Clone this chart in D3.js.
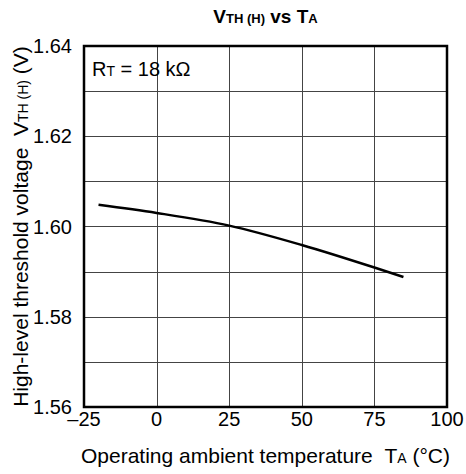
<!DOCTYPE html>
<html>
<head>
<meta charset="utf-8">
<script src="https://cdn.jsdelivr.net/npm/d3@7"></script>
<style>
  body { margin: 0; background: #fff; }
  text { font-family: "Liberation Sans", Arial, sans-serif; fill: #000; }
</style>
</head>
<body>
<script>
// curve values
const temps = [-20, 0, 25, 50, 75, 85]
const volts = [1.6048, 1.6030, 1.6002, 1.5959, 1.5909, 1.5888]
const xTicks = [-25, 0, 25, 50, 75, 100]
const yTicks = [1.56, 1.58, 1.60, 1.62, 1.64]
const yGrid = [1.57, 1.59, 1.61, 1.63]

const width = 466
const height = 474
const margin = {top: 46, right: 19, bottom: 67, left: 84}
const w = width - margin.left - margin.right
const h = height - margin.top - margin.bottom

const x = d3.scaleLinear().domain([-25, 100]).range([0, w])
const y = d3.scaleLinear().domain([1.56, 1.64]).range([h, 0])

const svg = d3.select('body').append('svg')
  .attr('width', width)
  .attr('height', height)

const g = svg.append('g')
  .attr('transform', `translate(${margin.left}, ${margin.top})`)

// grid
g.append('g')
  .selectAll('line')
  .data(xTicks.slice(1, -1))
  .join('line')
  .attr('x1', (d) => Math.round(x(d)) + 0.5)
  .attr('x2', (d) => Math.round(x(d)) + 0.5)
  .attr('y1', 0)
  .attr('y2', h)
  .attr('stroke', '#444')

g.append('g')
  .selectAll('line')
  .data(yTicks.slice(1, -1).concat(yGrid))
  .join('line')
  .attr('y1', (d) => Math.round(y(d)) + 0.5)
  .attr('y2', (d) => Math.round(y(d)) + 0.5)
  .attr('x1', 0)
  .attr('x2', w)
  .attr('stroke', '#444')

// frame
g.append('rect')
  .attr('width', w)
  .attr('height', h)
  .attr('fill', 'none')
  .attr('stroke', '#000')
  .attr('stroke-width', 2.5)

// curve
const line = d3.line()
  .x((d, i) => x(temps[i]))
  .y((d) => y(d))
  .curve(d3.curveMonotoneX)

g.append('path')
  .datum(volts)
  .attr('d', line)
  .attr('fill', 'none')
  .attr('stroke', '#000')
  .attr('stroke-width', 2.5)

// tick labels
g.append('g')
  .selectAll('text')
  .data(xTicks)
  .join('text')
  .attr('x', (d) => x(d))
  .attr('y', h + 19)
  .attr('text-anchor', 'middle')
  .style('font-size', '20px')
  .text((d) => d < 0 ? `\u2013${-d}` : d)

g.append('g')
  .selectAll('text')
  .data(yTicks)
  .join('text')
  .attr('x', -12)
  .attr('y', (d) => y(d) + 7)
  .attr('text-anchor', 'end')
  .style('font-size', '20px')
  .text((d) => d.toFixed(2))

// RT label
const rt = g.append('text')
  .attr('x', 8)
  .attr('y', 30)
  .style('font-size', '20px')
rt.append('tspan').text('R')
rt.append('tspan').style('font-size', '14px').text('T')
rt.append('tspan').text(' = 18 k\u03a9')

// title
const title = svg.append('text')
  .attr('x', margin.left + w / 2)
  .attr('y', 23)
  .attr('text-anchor', 'middle')
  .style('font-weight', 'bold')
  .style('font-size', '19px')
title.append('tspan').text('V')
title.append('tspan').style('font-size', '13px').text('TH (H)')
title.append('tspan').text(' vs T')
title.append('tspan').style('font-size', '13px').text('A')

// x axis title
const xt = svg.append('text')
  .attr('x', margin.left + w / 2)
  .attr('y', 463)
  .attr('text-anchor', 'middle')
  .style('font-size', '21px')
xt.append('tspan').text('Operating ambient temperature \u00a0T')
xt.append('tspan').style('font-size', '14px').text('A')
xt.append('tspan').text(' (\u00b0C)')

// y axis title
const yt = svg.append('text')
  .attr('transform', `translate(28, ${margin.top + h / 2}) rotate(-90)`)
  .attr('text-anchor', 'middle')
  .style('font-size', '21px')
yt.append('tspan').text('High-level threshold voltage \u00a0V')
yt.append('tspan').style('font-size', '14px').text('TH (H)')
yt.append('tspan').text(' (V)')
</script>
</body>
</html>
